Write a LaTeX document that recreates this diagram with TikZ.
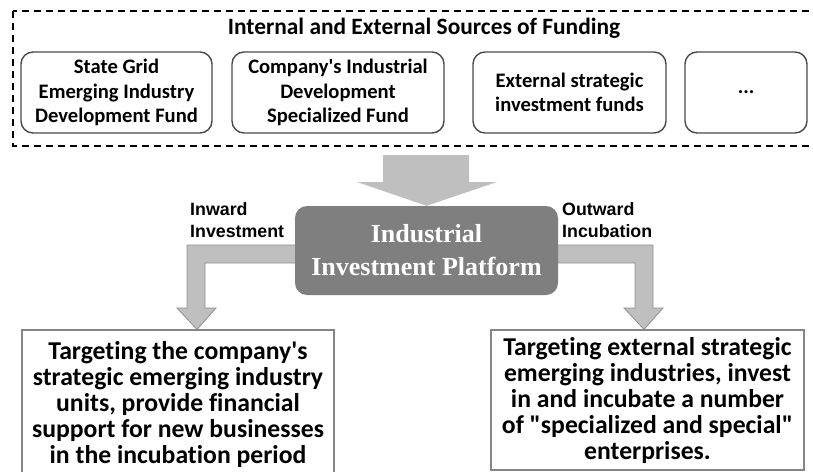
\documentclass[tikz,border=0pt]{standalone}
\usepackage{fontspec}
\newfontfamily\calfont{Carlito}[Ligatures=NoCommon]
\newfontfamily\arialfont{Liberation Sans}
\newfontfamily\timesfont{Liberation Serif}
\usetikzlibrary{backgrounds}

\definecolor{boxline}{HTML}{4A4A4A}
\definecolor{targetline}{HTML}{858585}
\definecolor{arrowfill}{HTML}{BFBFBF}
\definecolor{arrowline}{HTML}{8F8F8F}
\definecolor{platfill}{HTML}{7F7F7F}

\tikzset{
  fundbox/.style={draw=boxline, line width=1.4pt, rounded corners=12pt,
    align=center, inner sep=0pt,
    font=\calfont\bfseries\fontsize{20.6}{24.5}\selectfont},
  targetbox/.style={draw=targetline, line width=1.1pt, align=center, inner sep=0pt,
    font=\calfont\bfseries\fontsize{25.7}{26}\selectfont},
  flowlabel/.style={align=left, inner sep=0pt,
    font=\arialfont\bfseries\fontsize{17.8}{22}\selectfont},
  platform/.style={fill=platfill, rounded corners=12pt, inner sep=0pt,
    align=center, text=white,
    font=\timesfont\bfseries\fontsize{26}{33}\selectfont},
  blockarrow/.style={fill=arrowfill, draw=arrowline, line width=0.8pt, line join=miter},
}

\begin{document}
\begin{tikzpicture}[x=1pt, y=-1pt]
\useasboundingbox (0,0) rectangle (813,471);
\clip (0,0) rectangle (813,471);

% funding sources frame
\draw[line width=1.3pt, dash pattern=on 7pt off 5pt] (13,11) rectangle (840,146);
\node[anchor=base, inner sep=0pt, font=\calfont\bfseries\fontsize{23.4}{27}\selectfont]
  (title) at (424,34) {Internal and External Sources of Funding};

\node[fundbox, minimum width=191pt, minimum height=81pt] (f1) at (116.5,92.5)
  {State Grid\\Emerging Industry\\Development Fund};
\node[fundbox, minimum width=212pt, minimum height=81pt] (f2) at (338,92.5)
  {Company's Industrial\\Development\\Specialized Fund};
\node[fundbox, minimum width=193pt, minimum height=81pt] (f3) at (569.5,92.5)
  {External strategic\\investment funds};
\node[fundbox, minimum width=122pt, minimum height=81pt] (f4) at (746,92.5) {...};

% platform
\node[platform, minimum width=263pt, minimum height=89pt] (plat) at (426.5,250.5)
  {Industrial\\Investment Platform};

% target boxes
\node[targetbox, minimum width=312pt, minimum height=160pt] (t1) at (178,410) {};
\node[targetbox, draw=none, anchor=center] (t1text) at (178,404)
  {Targeting the company's\\strategic emerging industry\\units, provide financial\\support for new businesses\\in the incubation period};
\node[targetbox, minimum width=313pt, minimum height=140pt] (t2) at (647.5,400)
  {Targeting external strategic\\emerging industries, invest\\in and incubate a number\\of "specialized and special"\\enterprises.};

% flow labels
\node[flowlabel, anchor=north west] (lin) at (190,202) {Inward\\Investment};
\node[flowlabel, anchor=north west] (lout) at (562,202) {Outward\\Incubation};

% block arrows
\begin{scope}[on background layer]
  \fill[arrowfill] (383,155) -- (469,155) -- (469,182) -- (497,182) -- (plat.north)
    -- (357,182) -- (383,182) -- cycle;
  \draw[blockarrow] (plat.west |- 0,245) -- (187,245) -- (187,308) -- (177,308)
    -- (t1.north -| 197,0) -- (216,308) -- (205,308) -- (205,263) -- (plat.west |- 0,263);
  \draw[blockarrow] (plat.east |- 0,245) -- (653,245) -- (653,308) -- (663,308)
    -- (t2.north -| 644,0) -- (624,308) -- (635,308) -- (635,263) -- (plat.east |- 0,263);
\end{scope}
\end{tikzpicture}
\end{document}
